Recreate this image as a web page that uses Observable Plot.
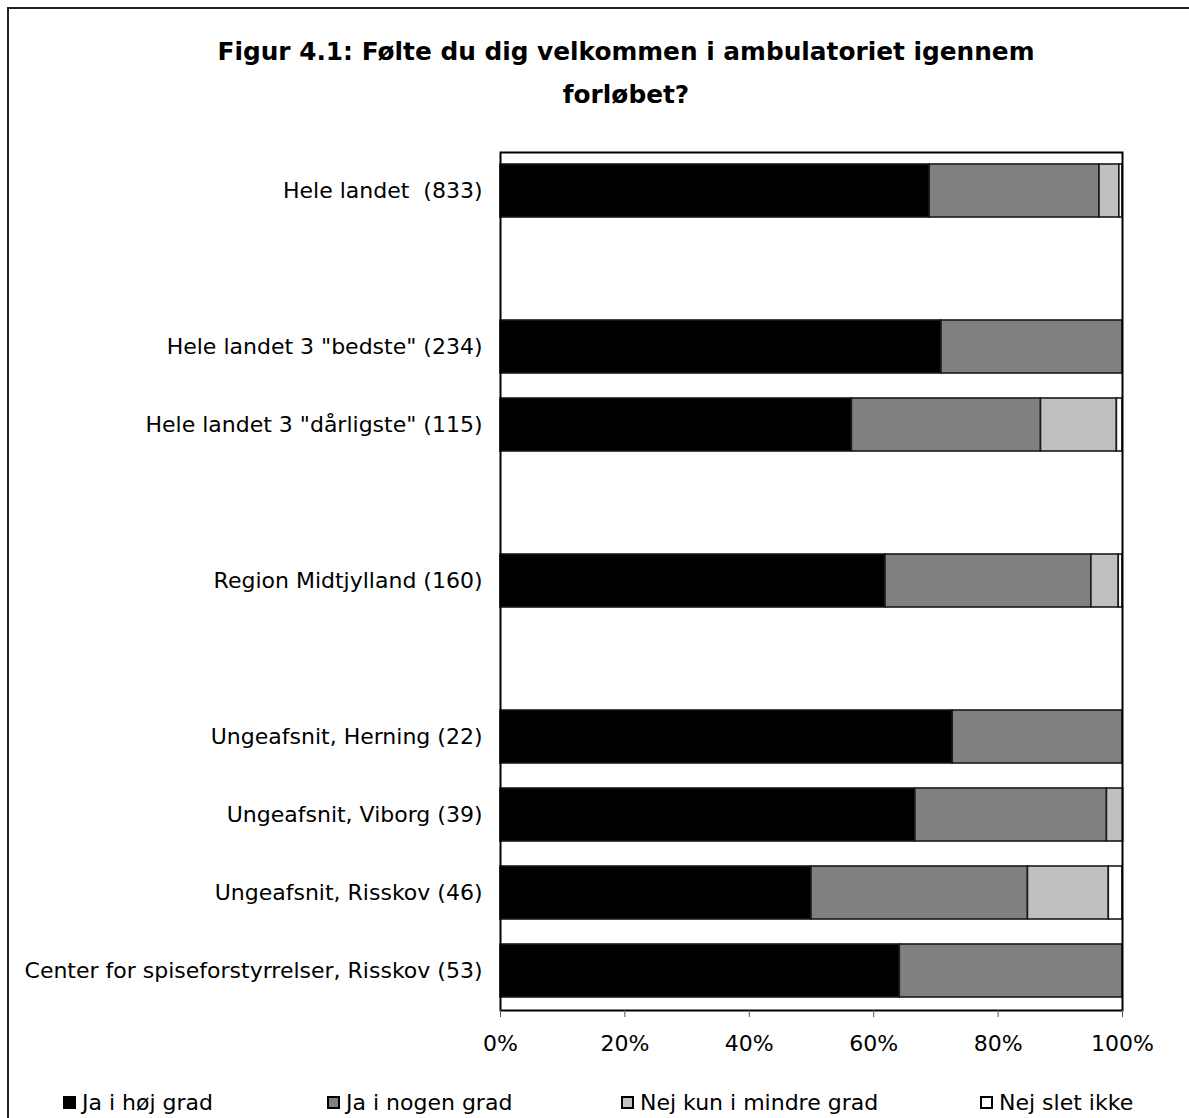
<!DOCTYPE html>
<html>
<head>
<meta charset="utf-8">
<script src="https://cdn.jsdelivr.net/npm/d3@7"></script>
<script src="https://cdn.jsdelivr.net/npm/@observablehq/plot@0.6"></script>
<style>
  html, body { margin: 0; padding: 0; background: #fff; }
  body { width: 1189px; height: 1118px; overflow: hidden; position: relative; font-family: "DejaVu Sans", Verdana, sans-serif; }
  #frame { position: absolute; z-index: 10; left: 7px; top: 7px; width: 1300px; height: 1300px; border: 2px solid #222; box-sizing: border-box; pointer-events: none; }
  #title { position: relative; height: 140px; width: 1252px; text-align: center; font-weight: bold; font-size: 24.8px; line-height: 43px; padding-top: 30px; box-sizing: border-box; color: #000; }
  #chart { position: relative; height: 930px; }
  #legend { position: relative; height: 48px; font-size: 22px; color: #000; }
  .item { position: absolute; top: 20px; display: flex; align-items: center; white-space: nowrap; }
  .sw { width: 13px; height: 13px; border: 2px solid #000; box-sizing: border-box; margin-right: 6px; }
</style>
</head>
<body>
<div id="frame"></div>
<div id="title">Figur 4.1: Følte du dig velkommen i ambulatoriet igennem<br>forløbet?</div>
<div id="chart"></div>
<div id="legend"></div>
<script>
const categories = [
  'Hele landet  (833)',
  ' ',
  'Hele landet 3 "bedste" (234)',
  'Hele landet 3 "dårligste" (115)',
  '  ',
  'Region Midtjylland (160)',
  '   ',
  'Ungeafsnit, Herning (22)',
  'Ungeafsnit, Viborg (39)',
  'Ungeafsnit, Risskov (46)',
  'Center for spiseforstyrrelser, Risskov (53)'
];
const groups = [
  'Hele landet  (833)',
  'Hele landet 3 "bedste" (234)',
  'Hele landet 3 "dårligste" (115)',
  'Region Midtjylland (160)',
  'Ungeafsnit, Herning (22)',
  'Ungeafsnit, Viborg (39)',
  'Ungeafsnit, Risskov (46)',
  'Center for spiseforstyrrelser, Risskov (53)'
];
const seriesNames = ["Ja i høj grad", "Ja i nogen grad", "Nej kun i mindre grad", "Nej slet ikke"];
const seriesColors = ["#000000", "#808080", "#c0c0c0", "#ffffff"];
const jaHoejGrad    = [69.0, 70.9, 56.5, 61.9, 72.7, 66.7, 50.0, 64.2];
const jaNogenGrad   = [27.3, 29.1, 30.4, 33.1, 27.3, 30.8, 34.8, 35.8];
const nejMindreGrad = [3.2, 0, 12.2, 4.4, 0, 2.6, 13.0, 0];
const nejSletIkke   = [0.5, 0, 0.9, 0.6, 0, 0, 2.2, 0];
const xTicks = [0, 20, 40, 60, 80, 100];

const seriesValues = [jaHoejGrad, jaNogenGrad, nejMindreGrad, nejSletIkke];
const rows = [];
groups.forEach((g, i) => {
  seriesValues.forEach((vals, s) => {
    if (vals[i] > 0) rows.push({group: g, series: seriesNames[s], order: s, value: vals[i]});
  });
});

const chart = Plot.plot({
  width: 1189,
  height: 930,
  marginTop: 12,
  marginBottom: 60,
  marginLeft: 500,
  marginRight: 67,
  style: {fontFamily: "DejaVu Sans, Verdana, sans-serif", fontSize: "22px", color: "#000", background: "transparent"},
  x: {domain: [0, 100], ticks: xTicks, tickFormat: d => d + "%", label: null},
  y: {domain: categories, paddingInner: 0.32, paddingOuter: 0.16, label: null},
  color: {domain: seriesNames, range: seriesColors},
  marks: [
    Plot.barX(rows, Plot.stackX({
      x: "value", y: "group", fill: "series", order: "order",
      stroke: "#1a1a1a", strokeWidth: 1.6
    })),
    Plot.frame({stroke: "#000", strokeWidth: 2}),
    Plot.axisX({ticks: xTicks, tickFormat: d => d + "%", tickSize: 7, tickPadding: 18, stroke: "#555", fill: "#000", label: null, fontSize: 22}),
    Plot.axisY({tickSize: 0, tickPadding: 18, fill: "#000", label: null, fontSize: 22})
  ]
});
document.getElementById("chart").appendChild(chart);

const legend = document.getElementById("legend");
const legendX = [63, 327, 621, 980];
seriesNames.forEach((name, i) => {
  const it = document.createElement("div");
  it.className = "item";
  it.style.left = legendX[i] + "px";
  const sw = document.createElement("div");
  sw.className = "sw";
  sw.style.background = seriesColors[i];
  it.appendChild(sw);
  const t = document.createElement("span");
  t.textContent = name;
  it.appendChild(t);
  legend.appendChild(it);
});
</script>
</body>
</html>
